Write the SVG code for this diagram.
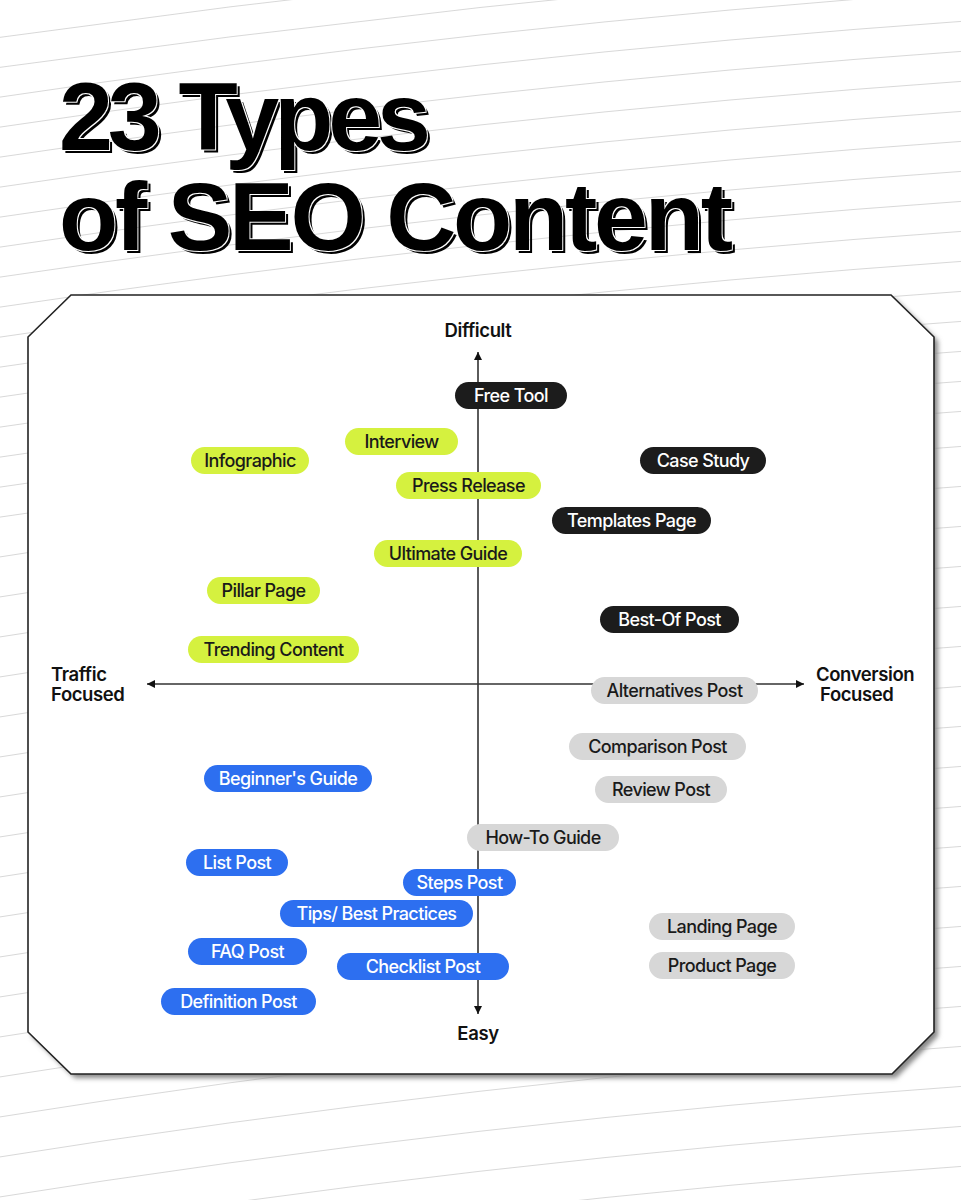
<svg xmlns="http://www.w3.org/2000/svg" width="961" height="1200" viewBox="0 0 961 1200">
<style>
.bgl{fill:none;stroke:#d4d4d4;stroke-width:0.9}
.title{font-family:"Liberation Sans",Arial,sans-serif;font-weight:700;font-size:97px;fill:#000}
.ax{stroke:#333;stroke-width:1.6;fill:none}
.axl{font-family:Inter,"Liberation Sans",sans-serif;font-weight:600;font-size:18.5px;fill:#111;letter-spacing:-0.4px}
.pt{font-family:Inter,"Liberation Sans",sans-serif;font-weight:500;font-size:18px;letter-spacing:-0.6px;text-anchor:middle;dominant-baseline:central}
.k rect{fill:#1c1c1c}.k text{fill:#fff}
.l rect{fill:#d5f13f}.l text{fill:#1a1a1a}
.g rect{fill:#d7d7d7}.g text{fill:#1a1a1a}
.b rect{fill:#2d6ff0}.b text{fill:#fff}
</style>
<defs>
<filter id="sh" x="-5%" y="-5%" width="110%" height="110%">
<feGaussianBlur stdDeviation="2.5"/>
</filter>
<filter id="tsh" x="-5%" y="-10%" width="110%" height="130%">
<feOffset in="SourceAlpha" dx="3" dy="3" result="off"/>
<feMorphology in="SourceAlpha" operator="dilate" radius="1.3" result="dil"/>
<feComposite in="off" in2="dil" operator="out" result="edge"/>
<feMerge><feMergeNode in="edge"/><feMergeNode in="SourceGraphic"/></feMerge>
</filter>
<marker id="ah" viewBox="0 0 10 10" refX="10" refY="5" markerWidth="8" markerHeight="8" markerUnits="userSpaceOnUse" orient="auto">
<path d="M0,0 L10,5 L0,10 z" fill="#111"/>
</marker>
</defs>
<rect width="961" height="1200" fill="#fff"/>
<g id="background-lines">
<path class="bgl" d="M-20,40 Q480,-30 980,-70"/>
<path class="bgl" d="M-20,70 Q480,0 980,-40"/>
<path class="bgl" d="M-20,100 Q480,25 980,-10"/>
<path class="bgl" d="M-20,130 Q480,55 980,20"/>
<path class="bgl" d="M-20,160 Q480,85 980,50"/>
<path class="bgl" d="M-20,190 Q480,115 980,80"/>
<path class="bgl" d="M-20,220 Q480,145 980,110"/>
<path class="bgl" d="M-20,250 Q480,175 980,140"/>
<path class="bgl" d="M-20,280 Q480,205 980,170"/>
<path class="bgl" d="M-20,310 Q480,235 980,200"/>
<path class="bgl" d="M-20,340 Q480,265 980,230"/>
<path class="bgl" d="M-20,370 Q480,295 980,260"/>
<path class="bgl" d="M-20,400 Q480,325 980,290"/>
<path class="bgl" d="M-20,430 Q480,355 980,320"/>
<path class="bgl" d="M-20,460 Q480,385 980,350"/>
<path class="bgl" d="M-20,490 Q480,415 980,380"/>
<path class="bgl" d="M-20,520 Q480,445 980,410"/>
<path class="bgl" d="M-20,560 Q480,480 980,445"/>
<path class="bgl" d="M-20,600 Q480,520 980,485"/>
<path class="bgl" d="M-20,640 Q480,560 980,525"/>
<path class="bgl" d="M-20,680 Q480,600 980,565"/>
<path class="bgl" d="M-20,720 Q480,640 980,605"/>
<path class="bgl" d="M-20,760 Q480,680 980,645"/>
<path class="bgl" d="M-20,800 Q480,720 980,685"/>
<path class="bgl" d="M-20,840 Q480,760 980,725"/>
<path class="bgl" d="M-20,880 Q480,800 980,765"/>
<path class="bgl" d="M-20,920 Q480,840 980,805"/>
<path class="bgl" d="M-20,960 Q480,880 980,845"/>
<path class="bgl" d="M-20,1000 Q480,920 980,885"/>
<path class="bgl" d="M-20,1040 Q480,960 980,925"/>
<path class="bgl" d="M-20,1080 Q480,1000 980,965"/>
<path class="bgl" d="M-20,1120 Q480,1040 980,1005"/>
<path class="bgl" d="M-20,1160 Q480,1080 980,1045"/>
<path class="bgl" d="M-20,1200 Q480,1120 980,1085"/>
<path class="bgl" d="M-20,1240 Q480,1160 980,1125"/>
<path class="bgl" d="M-20,1280 Q480,1200 980,1165"/>
<path class="bgl" d="M-20,1320 Q480,1240 980,1205"/>
</g>
<g id="title" class="title" filter="url(#tsh)">
<text x="59" y="150" textLength="372" lengthAdjust="spacing">23 Types</text>
<text x="59" y="250" textLength="674" lengthAdjust="spacing">of SEO Content</text>
</g>
<g id="frame">
<path d="M71,295 L891,295 L934,337 L934,1032 L892,1074 L71,1074 L28,1032 L28,337 Z" transform="translate(4,4)" fill="#888" filter="url(#sh)"/>
<path d="M71,295 L891,295 L934,337 L934,1032 L892,1074 L71,1074 L28,1032 L28,337 Z" fill="#fff" stroke="#222" stroke-width="1.6"/>
</g>
<g id="connectors">
<line class="ax" x1="478" y1="684" x2="478" y2="352" marker-end="url(#ah)"/>
<line class="ax" x1="478" y1="684" x2="478" y2="1014" marker-end="url(#ah)"/>
<line class="ax" x1="478" y1="684" x2="147" y2="684" marker-end="url(#ah)"/>
<line class="ax" x1="478" y1="684" x2="804" y2="684" marker-end="url(#ah)"/>
</g>
<g id="axis-labels" class="axl">
<text id="difficult" x="478" y="337" text-anchor="middle">Difficult</text>
<text id="easy" x="478" y="1040" text-anchor="middle">Easy</text>
<text id="traffic-1" x="51" y="681">Traffic</text>
<text id="traffic-2" x="51" y="701">Focused</text>
<text id="conversion-1" x="816" y="681">Conversion</text>
<text id="conversion-2" x="820" y="701">Focused</text>
</g>
<g id="n-free-tool" class="k"><rect x="455" y="382" width="112" height="27" rx="13.5"/><text class="pt" x="511" y="395.5">Free Tool</text></g>
<g id="n-case-study" class="k"><rect x="640" y="447" width="126" height="27" rx="13.5"/><text class="pt" x="703" y="460.5">Case Study</text></g>
<g id="n-templates-page" class="k"><rect x="552" y="507" width="159" height="27" rx="13.5"/><text class="pt" x="631.5" y="520.5">Templates Page</text></g>
<g id="n-best-of-post" class="k"><rect x="600" y="606" width="139" height="27" rx="13.5"/><text class="pt" x="669.5" y="619.5">Best-Of Post</text></g>
<g id="n-interview" class="l"><rect x="345" y="428" width="113" height="27" rx="13.5"/><text class="pt" x="401.5" y="441.5">Interview</text></g>
<g id="n-infographic" class="l"><rect x="191" y="447" width="118" height="27" rx="13.5"/><text class="pt" x="250" y="460.5">Infographic</text></g>
<g id="n-press-release" class="l"><rect x="396" y="472" width="145" height="27" rx="13.5"/><text class="pt" x="468.5" y="485.5">Press Release</text></g>
<g id="n-ultimate-guide" class="l"><rect x="374" y="540" width="148" height="27" rx="13.5"/><text class="pt" x="448" y="553.5">Ultimate Guide</text></g>
<g id="n-pillar-page" class="l"><rect x="207" y="577" width="113" height="27" rx="13.5"/><text class="pt" x="263.5" y="590.5">Pillar Page</text></g>
<g id="n-trending-content" class="l"><rect x="188" y="636" width="171" height="27" rx="13.5"/><text class="pt" x="273.5" y="649.5">Trending Content</text></g>
<g id="n-alternatives-post" class="g"><rect x="591" y="677" width="167" height="27" rx="13.5"/><text class="pt" x="674.5" y="690.5">Alternatives Post</text></g>
<g id="n-comparison-post" class="g"><rect x="569" y="733" width="177" height="27" rx="13.5"/><text class="pt" x="657.5" y="746.5">Comparison Post</text></g>
<g id="n-review-post" class="g"><rect x="595" y="776" width="132" height="27" rx="13.5"/><text class="pt" x="661" y="789.5">Review Post</text></g>
<g id="n-how-to-guide" class="g"><rect x="467" y="824" width="152" height="27" rx="13.5"/><text class="pt" x="543" y="837.5">How-To Guide</text></g>
<g id="n-landing-page" class="g"><rect x="649" y="913" width="146" height="27" rx="13.5"/><text class="pt" x="722" y="926.5">Landing Page</text></g>
<g id="n-product-page" class="g"><rect x="649" y="952" width="146" height="27" rx="13.5"/><text class="pt" x="722" y="965.5">Product Page</text></g>
<g id="n-beginners-guide" class="b"><rect x="204" y="765" width="168" height="27" rx="13.5"/><text class="pt" x="288" y="778.5">Beginner's Guide</text></g>
<g id="n-list-post" class="b"><rect x="186" y="849" width="102" height="27" rx="13.5"/><text class="pt" x="237" y="862.5">List Post</text></g>
<g id="n-steps-post" class="b"><rect x="403" y="869" width="113" height="27" rx="13.5"/><text class="pt" x="459.5" y="882.5">Steps Post</text></g>
<g id="n-tips-best-practices" class="b"><rect x="280" y="900" width="193" height="27" rx="13.5"/><text class="pt" x="376.5" y="913.5">Tips/ Best Practices</text></g>
<g id="n-faq-post" class="b"><rect x="188" y="938" width="119" height="27" rx="13.5"/><text class="pt" x="247.5" y="951.5">FAQ Post</text></g>
<g id="n-checklist-post" class="b"><rect x="337" y="953" width="172" height="27" rx="13.5"/><text class="pt" x="423" y="966.5">Checklist Post</text></g>
<g id="n-definition-post" class="b"><rect x="161" y="988" width="155" height="27" rx="13.5"/><text class="pt" x="238.5" y="1001.5">Definition Post</text></g>
</svg>
